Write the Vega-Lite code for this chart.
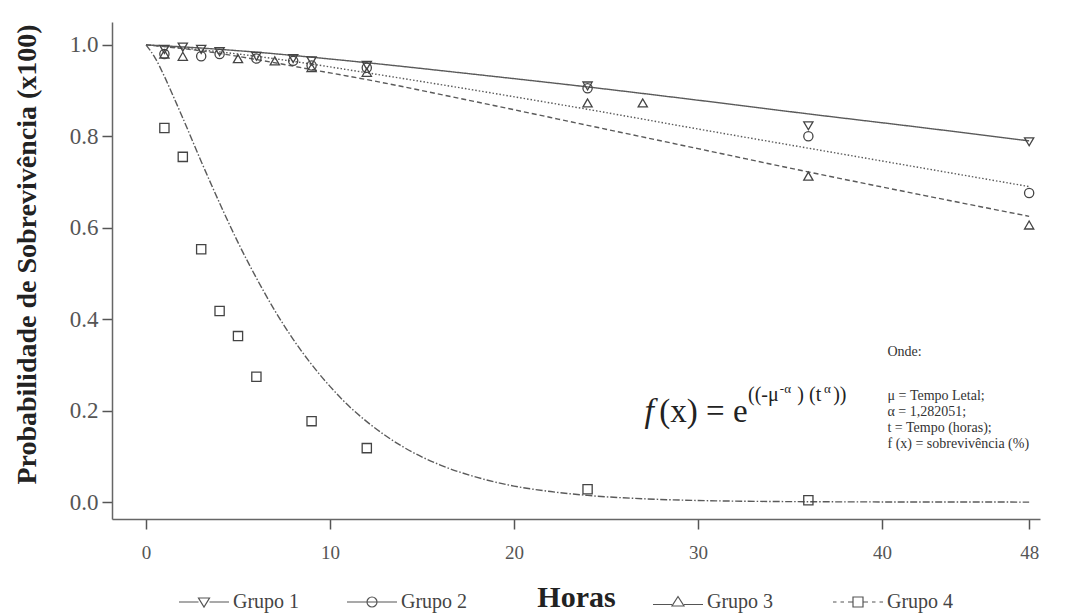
{
  "$schema": "https://vega.github.io/schema/vega-lite/v6.json",
  "width": 928,
  "height": 497,
  "autosize": {"type": "none"},
  "padding": {"left": 112, "top": 22, "right": 32, "bottom": 95},
  "background": "white",
  "config": {
    "view": {"stroke": null},
    "font": "Liberation Serif",
    "axis": {"grid": false, "domainColor": "#666", "domainWidth": 1.5, "tickColor": "#555", "tickWidth": 1.5, "tickSize": 10, "labelFont": "Liberation Serif", "labelColor": "#555", "titleFont": "Liberation Serif", "titleColor": "#222", "titleFontWeight": "bold"},
    "legend": {"labelFont": "Liberation Serif", "labelFontSize": 20, "labelColor": "#444", "padding": 0}
  },
  "datasets": {
    "fit": [
      {"grupo": "Grupo 1", "t": 0, "p": 1.0}, {"grupo": "Grupo 1", "t": 3, "p": 0.993}, {"grupo": "Grupo 1", "t": 6, "p": 0.984}, {"grupo": "Grupo 1", "t": 9, "p": 0.973}, {"grupo": "Grupo 1", "t": 12, "p": 0.961}, {"grupo": "Grupo 1", "t": 18, "p": 0.935}, {"grupo": "Grupo 1", "t": 24, "p": 0.908}, {"grupo": "Grupo 1", "t": 30, "p": 0.879}, {"grupo": "Grupo 1", "t": 36, "p": 0.849}, {"grupo": "Grupo 1", "t": 42, "p": 0.82}, {"grupo": "Grupo 1", "t": 48, "p": 0.79},
      {"grupo": "Grupo 2", "t": 0, "p": 1.0}, {"grupo": "Grupo 2", "t": 3, "p": 0.989}, {"grupo": "Grupo 2", "t": 6, "p": 0.975}, {"grupo": "Grupo 2", "t": 9, "p": 0.958}, {"grupo": "Grupo 2", "t": 12, "p": 0.939}, {"grupo": "Grupo 2", "t": 18, "p": 0.9}, {"grupo": "Grupo 2", "t": 24, "p": 0.859}, {"grupo": "Grupo 2", "t": 30, "p": 0.816}, {"grupo": "Grupo 2", "t": 36, "p": 0.774}, {"grupo": "Grupo 2", "t": 42, "p": 0.732}, {"grupo": "Grupo 2", "t": 48, "p": 0.69},
      {"grupo": "Grupo 3", "t": 0, "p": 1.0}, {"grupo": "Grupo 3", "t": 3, "p": 0.987}, {"grupo": "Grupo 3", "t": 6, "p": 0.968}, {"grupo": "Grupo 3", "t": 9, "p": 0.946}, {"grupo": "Grupo 3", "t": 12, "p": 0.924}, {"grupo": "Grupo 3", "t": 18, "p": 0.875}, {"grupo": "Grupo 3", "t": 24, "p": 0.824}, {"grupo": "Grupo 3", "t": 30, "p": 0.773}, {"grupo": "Grupo 3", "t": 36, "p": 0.722}, {"grupo": "Grupo 3", "t": 42, "p": 0.673}, {"grupo": "Grupo 3", "t": 48, "p": 0.625},
      {"grupo": "Grupo 4", "t": 0, "p": 1.0}, {"grupo": "Grupo 4", "t": 0.5, "p": 0.971}, {"grupo": "Grupo 4", "t": 1, "p": 0.931}, {"grupo": "Grupo 4", "t": 1.5, "p": 0.886}, {"grupo": "Grupo 4", "t": 2, "p": 0.84}, {"grupo": "Grupo 4", "t": 3, "p": 0.745}, {"grupo": "Grupo 4", "t": 4, "p": 0.654}, {"grupo": "Grupo 4", "t": 5, "p": 0.568}, {"grupo": "Grupo 4", "t": 6, "p": 0.49}, {"grupo": "Grupo 4", "t": 7, "p": 0.419}, {"grupo": "Grupo 4", "t": 8, "p": 0.356}, {"grupo": "Grupo 4", "t": 9, "p": 0.301}, {"grupo": "Grupo 4", "t": 10, "p": 0.253}, {"grupo": "Grupo 4", "t": 11, "p": 0.211}, {"grupo": "Grupo 4", "t": 12, "p": 0.176}, {"grupo": "Grupo 4", "t": 14, "p": 0.12}, {"grupo": "Grupo 4", "t": 16, "p": 0.081}, {"grupo": "Grupo 4", "t": 18, "p": 0.054}, {"grupo": "Grupo 4", "t": 20, "p": 0.035}, {"grupo": "Grupo 4", "t": 22, "p": 0.023}, {"grupo": "Grupo 4", "t": 24, "p": 0.0146}, {"grupo": "Grupo 4", "t": 27, "p": 0.0073}, {"grupo": "Grupo 4", "t": 30, "p": 0.0035}, {"grupo": "Grupo 4", "t": 36, "p": 0.0008}, {"grupo": "Grupo 4", "t": 42, "p": 0.0002}, {"grupo": "Grupo 4", "t": 48, "p": 0.0}
    ],
    "pts": [
      {"grupo": "Grupo 1", "t": 1, "p": 0.99}, {"grupo": "Grupo 1", "t": 2, "p": 0.995}, {"grupo": "Grupo 1", "t": 3, "p": 0.99}, {"grupo": "Grupo 1", "t": 4, "p": 0.985}, {"grupo": "Grupo 1", "t": 6, "p": 0.975}, {"grupo": "Grupo 1", "t": 8, "p": 0.97}, {"grupo": "Grupo 1", "t": 9, "p": 0.965}, {"grupo": "Grupo 1", "t": 12, "p": 0.955}, {"grupo": "Grupo 1", "t": 24, "p": 0.91}, {"grupo": "Grupo 1", "t": 36, "p": 0.823}, {"grupo": "Grupo 1", "t": 48, "p": 0.788},
      {"grupo": "Grupo 2", "t": 1, "p": 0.98}, {"grupo": "Grupo 2", "t": 3, "p": 0.975}, {"grupo": "Grupo 2", "t": 4, "p": 0.98}, {"grupo": "Grupo 2", "t": 6, "p": 0.97}, {"grupo": "Grupo 2", "t": 8, "p": 0.965}, {"grupo": "Grupo 2", "t": 9, "p": 0.955}, {"grupo": "Grupo 2", "t": 12, "p": 0.95}, {"grupo": "Grupo 2", "t": 24, "p": 0.905}, {"grupo": "Grupo 2", "t": 36, "p": 0.8}, {"grupo": "Grupo 2", "t": 48, "p": 0.676},
      {"grupo": "Grupo 3", "t": 1, "p": 0.98}, {"grupo": "Grupo 3", "t": 2, "p": 0.975}, {"grupo": "Grupo 3", "t": 5, "p": 0.97}, {"grupo": "Grupo 3", "t": 7, "p": 0.965}, {"grupo": "Grupo 3", "t": 9, "p": 0.95}, {"grupo": "Grupo 3", "t": 12, "p": 0.94}, {"grupo": "Grupo 3", "t": 24, "p": 0.873}, {"grupo": "Grupo 3", "t": 27, "p": 0.873}, {"grupo": "Grupo 3", "t": 36, "p": 0.713}, {"grupo": "Grupo 3", "t": 48, "p": 0.606},
      {"grupo": "Grupo 4", "t": 1, "p": 0.818}, {"grupo": "Grupo 4", "t": 2, "p": 0.755}, {"grupo": "Grupo 4", "t": 3, "p": 0.553}, {"grupo": "Grupo 4", "t": 4, "p": 0.418}, {"grupo": "Grupo 4", "t": 5, "p": 0.363}, {"grupo": "Grupo 4", "t": 6, "p": 0.274}, {"grupo": "Grupo 4", "t": 9, "p": 0.177}, {"grupo": "Grupo 4", "t": 12, "p": 0.118}, {"grupo": "Grupo 4", "t": 24, "p": 0.028}, {"grupo": "Grupo 4", "t": 36, "p": 0.004}
    ]
  },
  "layer": [
    {
      "data": {"name": "fit"},
      "mark": {"type": "line", "color": "#5a5a5a", "strokeWidth": 1.4, "interpolate": "monotone"},
      "encoding": {
        "x": {"field": "t", "type": "quantitative", "scale": {"domain": [-1.848, 48.59], "nice": false, "zero": false},
          "axis": {"values": [0, 10, 20, 30, 40, 48], "labelFontSize": 19, "labelPadding": 14, "title": "Horas", "titleFontSize": 30, "titleX": 464, "titleY": 87, "titleBaseline": "alphabetic", "titleAlign": "center"}},
        "y": {"field": "p", "type": "quantitative", "scale": {"domain": [-0.037, 1.05], "nice": false, "zero": false},
          "axis": {"values": [0, 0.2, 0.4, 0.6, 0.8, 1.0], "format": ".1f", "labelFontSize": 23, "labelPadding": 4, "title": "Probabilidade de Sobrevivência (x100)", "titleFontSize": 28, "titleX": -85, "titleY": 232, "titleBaseline": "middle", "titleAngle": -90, "titleAlign": "center"}},
        "detail": {"field": "grupo"},
        "strokeDash": {"field": "grupo", "type": "nominal", "legend": null,
          "scale": {"domain": ["Grupo 1", "Grupo 2", "Grupo 3", "Grupo 4"], "range": [[1, 0], [1.5, 2], [5, 3], [7, 2, 1.5, 2]]}}
      }
    },
    {
      "data": {"name": "pts"},
      "mark": {"type": "point", "filled": false, "color": "#444", "strokeWidth": 1.3, "size": 85, "opacity": 1},
      "encoding": {
        "x": {"field": "t", "type": "quantitative"},
        "y": {"field": "p", "type": "quantitative"},
        "shape": {"field": "grupo", "type": "nominal", "legend": null,
          "scale": {"domain": ["Grupo 1", "Grupo 2", "Grupo 3", "Grupo 4"], "range": ["triangle-down", "circle", "triangle-up", "square"]}}
      }
    },
    {
      "data": {"name": "pts"},
      "transform": [{"filter": "datum.grupo === 'Grupo 1' || datum.grupo === 'Grupo 2'"}],
      "mark": {"type": "point", "filled": false, "color": "#444", "strokeWidth": 1.3, "size": 80, "opacity": 0},
      "encoding": {
        "x": {"field": "t", "type": "quantitative"},
        "y": {"field": "p", "type": "quantitative"},
        "shape": {"field": "grupo", "type": "nominal",
          "scale": {"domain": ["Grupo 1", "Grupo 2"], "range": ["M-5,0H-1.1M1.1,0H5M-1.1,-0.8L1.1,-0.8L0,1Z", "M-5,0H5M-1,0A1,1 0 1,0 1,0A1,1 0 1,0 -1,0Z"]},
          "legend": {"title": null, "orient": "none", "direction": "horizontal", "legendX": 82, "legendY": 570, "labelOffset": 19, "columnPadding": 44, "symbolOpacity": 1, "symbolStrokeColor": "#555", "symbolFillColor": "transparent", "symbolStrokeWidth": 1.2}}
      }
    },
    {
      "data": {"name": "pts"},
      "transform": [{"filter": "datum.grupo === 'Grupo 3' || datum.grupo === 'Grupo 4'"}],
      "mark": {"type": "point", "filled": false, "color": "#444", "strokeWidth": 1.3, "size": 80, "opacity": 0},
      "encoding": {
        "x": {"field": "t", "type": "quantitative"},
        "y": {"field": "p", "type": "quantitative"},
        "shape": {"field": "grupo", "type": "nominal",
          "scale": {"domain": ["Grupo 3", "Grupo 4"], "range": ["M-5,0.5H-1.2M1.2,0.5H5M-1.2,0.8L1.2,0.8L0,-1.1Z", "M-5,0H-4.3M-3.5,0H-2.8M-2,0H-1M1,0H2M2.8,0H3.5M4.3,0H5M-1,-1H1V1H-1Z"]},
          "legend": {"title": null, "orient": "none", "direction": "horizontal", "legendX": 556, "legendY": 570, "labelOffset": 19, "columnPadding": 56, "symbolOpacity": 1, "symbolStrokeColor": "#555", "symbolFillColor": "transparent", "symbolStrokeWidth": 1.2}}
      }
    },
    {
      "data": {"values": [{}]},
      "mark": {"type": "text", "text": "f", "font": "Liberation Serif", "fontStyle": "italic", "fontSize": 34, "align": "left", "baseline": "middle", "color": "#222"},
      "encoding": {"x": {"datum": 27.1, "type": "quantitative"}, "y": {"datum": 0.197, "type": "quantitative"}}
    },
    {
      "data": {"values": [{}]},
      "mark": {"type": "text", "text": "(x) = e", "font": "Liberation Serif", "fontSize": 33, "align": "left", "baseline": "middle", "color": "#222"},
      "encoding": {"x": {"datum": 27.9, "type": "quantitative"}, "y": {"datum": 0.197, "type": "quantitative"}}
    },
    {
      "data": {"values": [{}]},
      "mark": {"type": "text", "text": "((-μ", "font": "Liberation Serif", "fontSize": 20, "align": "left", "baseline": "middle", "color": "#222"},
      "encoding": {"x": {"datum": 32.72, "type": "quantitative"}, "y": {"datum": 0.234, "type": "quantitative"}}
    },
    {
      "data": {"values": [{}]},
      "mark": {"type": "text", "text": "-α", "font": "Liberation Serif", "fontSize": 13, "align": "left", "baseline": "middle", "color": "#222"},
      "encoding": {"x": {"datum": 34.45, "type": "quantitative"}, "y": {"datum": 0.247, "type": "quantitative"}}
    },
    {
      "data": {"values": [{}]},
      "mark": {"type": "text", "text": ") (t", "font": "Liberation Serif", "fontSize": 20, "align": "left", "baseline": "middle", "color": "#222"},
      "encoding": {"x": {"datum": 35.4, "type": "quantitative"}, "y": {"datum": 0.234, "type": "quantitative"}}
    },
    {
      "data": {"values": [{}]},
      "mark": {"type": "text", "text": "α", "font": "Liberation Serif", "fontSize": 13, "align": "left", "baseline": "middle", "color": "#222"},
      "encoding": {"x": {"datum": 36.85, "type": "quantitative"}, "y": {"datum": 0.247, "type": "quantitative"}}
    },
    {
      "data": {"values": [{}]},
      "mark": {"type": "text", "text": " ))", "font": "Liberation Serif", "fontSize": 20, "align": "left", "baseline": "middle", "color": "#222"},
      "encoding": {"x": {"datum": 37.35, "type": "quantitative"}, "y": {"datum": 0.234, "type": "quantitative"}}
    },
    {
      "data": {"values": [{}]},
      "mark": {"type": "text", "text": "Onde:", "font": "Liberation Serif", "fontSize": 14, "align": "left", "baseline": "middle", "color": "#333"},
      "encoding": {"x": {"datum": 40.3, "type": "quantitative"}, "y": {"datum": 0.328, "type": "quantitative"}}
    },
    {
      "data": {"values": [{}]},
      "mark": {"type": "text", "text": ["μ = Tempo Letal;", "α = 1,282051;", "t = Tempo (horas);", "f (x) = sobrevivência (%)"], "font": "Liberation Serif", "fontSize": 14, "lineHeight": 16, "align": "left", "baseline": "top", "color": "#333"},
      "encoding": {"x": {"datum": 40.3, "type": "quantitative"}, "y": {"datum": 0.247, "type": "quantitative"}}
    }
  ],
  "resolve": {"scale": {"shape": "independent"}, "legend": {"shape": "independent"}}
}
